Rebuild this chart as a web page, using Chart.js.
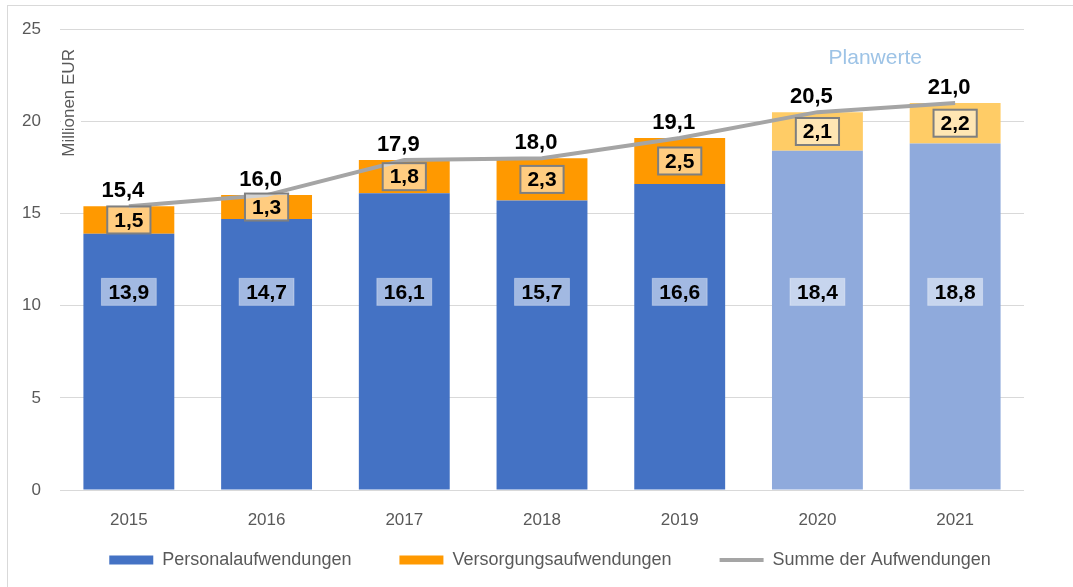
<!DOCTYPE html>
<html>
<head>
<meta charset="utf-8">
<script src="https://cdn.jsdelivr.net/npm/chart.js@4.4.0/dist/chart.umd.min.js"></script>
<style>
  html, body { margin: 0; padding: 0; background: #fff; }
  #wrap { position: relative; width: 1073px; height: 587px; }
  #frame { position: absolute; left: 7px; top: 5px; right: 0; bottom: 0;
           border-top: 1px solid #d9d9d9; border-left: 1px solid #d9d9d9; }
  canvas { position: absolute; left: 0; top: 0; }
</style>
</head>
<body>
<div id="wrap">
  <div id="frame"></div>
  <canvas id="chart" width="1073" height="587"></canvas>
</div>
<script>
// data
const years = ['2015', '2016', '2017', '2018', '2019', '2020', '2021'];
const personal = [13.9, 14.7, 16.1, 15.7, 16.6, 18.4, 18.8];
const versorgung = [1.5, 1.3, 1.8, 2.3, 2.5, 2.1, 2.2];
const summe = [15.4, 16.0, 17.9, 18.0, 19.1, 20.5, 21.0];
const planned = [false, false, false, false, false, true, true];
const yTicks = [0, 5, 10, 15, 20, 25];

const FONT = "'Liberation Sans', Arial, sans-serif";
const GREY_TEXT = '#595959';

const blue = planned.map(p => p ? '#8FAADC' : '#4472C4');
const orange = planned.map(p => p ? '#FFCC66' : '#FF9900');
const legendStyle = {
  0: { pointStyle: 'rect', color: '#4472C4', lw: 0 },
  1: { pointStyle: 'rect', color: '#FF9900', lw: 0 },
  2: { pointStyle: 'line', color: '#A5A5A5', lw: 4 }
};

function fmt(v) {
  return v.toFixed(1).replace('.', ',');
}

// semi transparent label box, like the Excel data label fill
function drawBox(ctx, text, cx, cy, stroke, lw) {
  const w = ctx.measureText(text).width + 14;
  const h = 27;
  ctx.fillStyle = 'rgba(255,255,255,0.5)';
  ctx.fillRect(cx - w / 2, cy - h / 2, w, h);
  ctx.strokeStyle = stroke;
  ctx.lineWidth = lw;
  ctx.strokeRect(cx - w / 2, cy - h / 2, w, h);
  ctx.fillStyle = '#000';
  ctx.fillText(text, cx, cy + 1);
}

const extras = {
  id: 'extras',
  afterLayout(chart) {
    // the legend row sits a bit right of centre and tight under the axis labels
    const lg = chart.legend;
    lg.left += 38;
    lg.right += 38;
    lg.top -= 33;
    lg.bottom = chart.height;
  },
  beforeDatasetsDraw(chart) {
    const ctx = chart.ctx;
    const area = chart.chartArea;
    const y = chart.scales.y;
    ctx.save();
    // axis title sits inside the plot and hides the grid behind it
    const ty = y.getPixelForValue(21);
    ctx.fillStyle = '#fff';
    ctx.fillRect(area.left + 1, ty - 60, 20, 120);
    ctx.translate(area.left + 9, ty);
    ctx.rotate(-Math.PI / 2);
    ctx.font = '17px ' + FONT;
    ctx.fillStyle = GREY_TEXT;
    ctx.textAlign = 'center';
    ctx.textBaseline = 'middle';
    ctx.fillText('Millionen EUR', 0, 0);
    ctx.restore();
  },
  afterDatasetsDraw(chart) {
    const ctx = chart.ctx;
    const x = chart.scales.x;
    const y = chart.scales.y;
    const m0 = chart.getDatasetMeta(0);
    const m1 = chart.getDatasetMeta(1);
    const m2 = chart.getDatasetMeta(2);
    ctx.save();
    ctx.textAlign = 'center';
    ctx.textBaseline = 'middle';

    ctx.font = 'bold 21px ' + FONT;
    m0.data.forEach((bar, i) => {
      drawBox(ctx, fmt(personal[i]), bar.x, y.getPixelForValue(10.75), 'rgba(255,255,255,0.35)', 1);
    });
    m1.data.forEach((bar, i) => {
      drawBox(ctx, fmt(versorgung[i]), bar.x, (bar.y + bar.base) / 2, '#7F7F7F', 2);
    });

    ctx.font = 'bold 22px ' + FONT;
    ctx.fillStyle = '#000';
    m2.data.forEach((pt, i) => {
      ctx.fillText(fmt(summe[i]), pt.x - 6, pt.y - 15);
    });

    ctx.font = '21px ' + FONT;
    ctx.fillStyle = '#9DC3E6';
    ctx.fillText('Planwerte', x.getPixelForValue(5.42), y.getPixelForValue(23.4));
    ctx.restore();
  }
};

new Chart(document.getElementById('chart'), {
  type: 'bar',
  data: {
    labels: years,
    datasets: [
      {
        label: 'Personalaufwendungen',
        data: personal,
        backgroundColor: blue,
        barPercentage: 0.66,
        categoryPercentage: 1.0,
        stack: 's',
        order: 2
      },
      {
        label: 'Versorgungsaufwendungen',
        data: versorgung,
        backgroundColor: orange,
        barPercentage: 0.66,
        categoryPercentage: 1.0,
        stack: 's',
        order: 2
      },
      {
        type: 'line',
        label: 'Summe der Aufwendungen',
        data: summe,
        borderColor: '#A5A5A5',
        borderWidth: 4,
        pointRadius: 0,
        tension: 0,
        order: 1
      }
    ]
  },
  options: {
    responsive: false,
    animation: false,
    layout: { padding: { top: 29, right: 49, bottom: 11, left: 0 } },
    scales: {
      x: {
        stacked: true,
        grid: { display: false },
        border: { display: false },
        ticks: { color: GREY_TEXT, font: { family: FONT, size: 17 }, padding: 12 },
        afterFit(scale) { scale.height = 46; }
      },
      y: {
        stacked: true,
        min: 0,
        max: 25,
        afterBuildTicks(scale) { scale.ticks = yTicks.map(v => ({ value: v })); },
        grid: { color: '#D9D9D9', lineWidth: 1, drawTicks: false },
        border: { display: false },
        ticks: { color: GREY_TEXT, font: { family: FONT, size: 17 }, padding: 19 },
        afterFit(scale) { scale.width = 60; }
      }
    },
    plugins: {
      tooltip: { enabled: false },
      legend: {
        position: 'bottom',
        maxHeight: 40,
        labels: {
          color: GREY_TEXT,
          font: { family: FONT, size: 18 },
          usePointStyle: true,
          pointStyleWidth: 44,
          boxHeight: 9,
          padding: 48,
          generateLabels(chart) {
            const items = Chart.defaults.plugins.legend.labels.generateLabels(chart);
            items.sort((a, b) => a.datasetIndex - b.datasetIndex);
            items.forEach(it => {
              const s = legendStyle[it.datasetIndex];
              it.pointStyle = s.pointStyle;
              it.fillStyle = s.color;
              it.strokeStyle = s.color;
              it.lineWidth = s.lw;
            });
            return items;
          }
        }
      }
    }
  },
  plugins: [extras]
});
</script>
</body>
</html>
